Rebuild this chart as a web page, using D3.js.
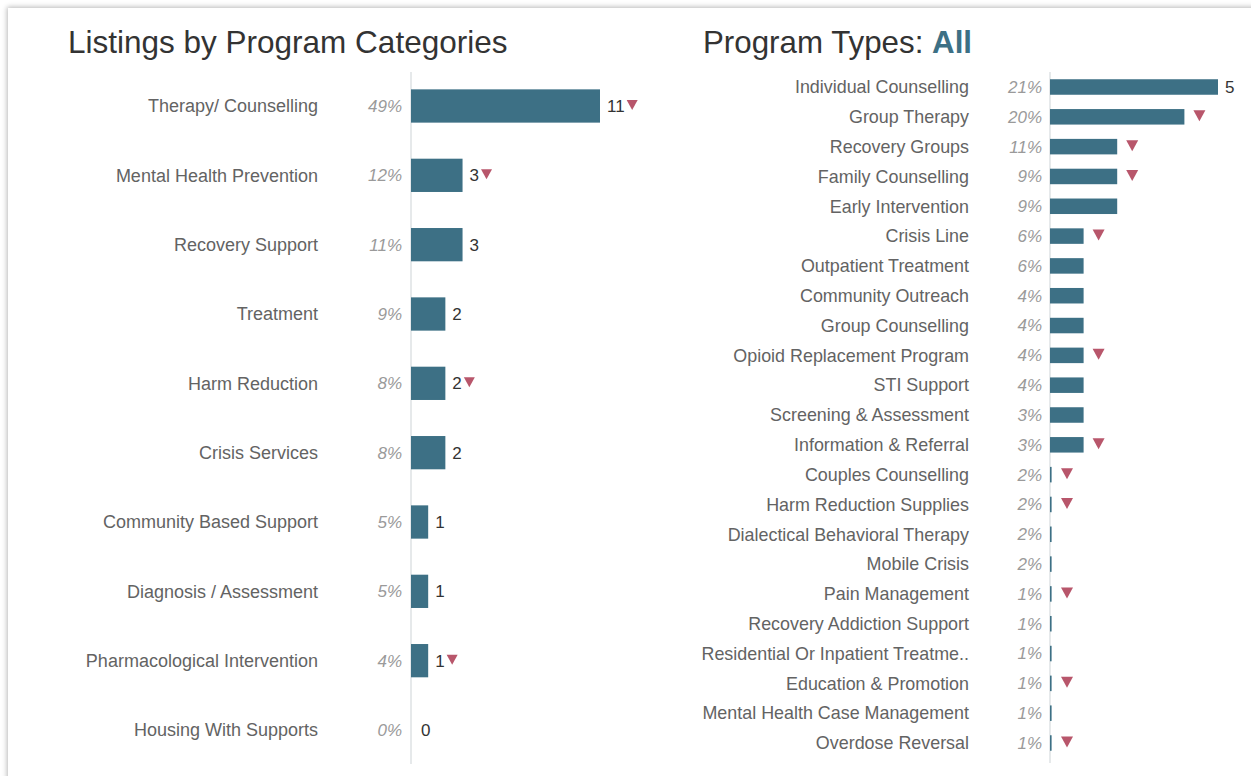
<!DOCTYPE html>
<html><head><meta charset="utf-8">
<script src="https://cdn.jsdelivr.net/npm/d3@7"></script>
<style>
html,body{margin:0;padding:0;background:#fff;overflow:hidden;width:1251px;height:776px}
#card{position:absolute;left:8px;top:8px;width:1320px;height:820px;background:#fff;box-shadow:-1px -1px 5px rgba(0,0,0,0.28)}
svg{position:absolute;left:0;top:0}
text{font-family:"Liberation Sans",Arial,Helvetica,sans-serif}
</style></head><body>
<div id="card"></div>
<svg id="chart" width="1251" height="776"></svg>
<script>
// ---- Data ----
const categories = ["Therapy/ Counselling","Mental Health Prevention","Recovery Support","Treatment","Harm Reduction","Crisis Services","Community Based Support","Diagnosis / Assessment","Pharmacological Intervention","Housing With Supports"];
const categoryCounts = [11,3,3,2,2,2,1,1,1,0];
const categoryPct = ["49%","12%","11%","9%","8%","8%","5%","5%","4%","0%"];
const categoryDown = [true,true,false,false,true,false,false,false,true,false];

const types = ["Individual Counselling","Group Therapy","Recovery Groups","Family Counselling","Early Intervention","Crisis Line","Outpatient Treatment","Community Outreach","Group Counselling","Opioid Replacement Program","STI Support","Screening & Assessment","Information & Referral","Couples Counselling","Harm Reduction Supplies","Dialectical Behavioral Therapy","Mobile Crisis","Pain Management","Recovery Addiction Support","Residential Or Inpatient Treatme..","Education & Promotion","Mental Health Case Management","Overdose Reversal"];
const typeCounts = [5,4,2,2,2,1,1,1,1,1,1,1,1,0,0,0,0,0,0,0,0,0,0];
const typePct = ["21%","20%","11%","9%","9%","6%","6%","4%","4%","4%","4%","3%","3%","2%","2%","2%","2%","1%","1%","1%","1%","1%","1%"];
const typeDown = [false,true,true,true,false,true,false,false,false,true,false,false,true,true,true,false,false,true,false,false,true,false,true];
const typeShowCount = [true,false,false,false,false,false,false,false,false,false,false,false,false,false,false,false,false,false,false,false,false,false,false];

// ---- Styles ----
const BAR = "#3d7085", TRI = "#b8566b", LABEL = "#636363", PCT = "#9a9a9a", VAL = "#333", AXIS = "#cdd3d6";

const svg = d3.select("#chart");

// Titles
svg.append("text").attr("x",68).attr("y",53).attr("font-size",31.5).attr("fill","#333")
  .text("Listings by Program Categories");
const t2 = svg.append("text").attr("x",703).attr("y",53).attr("font-size",31.3).attr("fill","#333");
t2.append("tspan").text("Program Types: ");
t2.append("tspan").attr("font-weight","bold").attr("fill","#3d7085").text("All");

function tri(g, cx, cy, w, h){
  g.append("path").attr("d",`M${cx-w/2},${cy-h/2}L${cx+w/2},${cy-h/2}L${cx},${cy+h/2}Z`).attr("fill",TRI);
}

// ---- Left chart ----
(function(){
  const x0 = 411;
  const x = d3.scaleLinear().domain([0,11]).range([x0, 600]);
  const y = d3.scaleBand().domain(categories).range([71.33,764.67]).paddingInner(0.52).paddingOuter(0.26);
  const g = svg.append("g");
  g.append("line").attr("x1",x0).attr("x2",x0).attr("y1",72).attr("y2",764).attr("stroke",AXIS).attr("stroke-width",1);
  categories.forEach((c,i)=>{
    const cy = y(c) + y.bandwidth()/2;
    g.append("text").attr("x",318).attr("y",cy).attr("dy","0.35em").attr("text-anchor","end")
      .attr("font-size",18).attr("fill",LABEL).text(c);
    g.append("text").attr("x",402).attr("y",cy).attr("dy","0.35em").attr("text-anchor","end")
      .attr("font-size",17).attr("font-style","italic").attr("fill",PCT).text(categoryPct[i]);
    const v = categoryCounts[i];
    if (v>0) g.append("rect").attr("x",x(0)).attr("y",y(c)).attr("width",x(v)-x(0)).attr("height",y.bandwidth()).attr("fill",BAR);
    const vt = g.append("text").attr("x",x(v)+7+(v===0?3:0)).attr("y",cy).attr("dy","0.35em")
      .attr("font-size",17).attr("fill",VAL).text(v);
    if (categoryDown[i]){
      const wd = vt.node().getComputedTextLength();
      tri(g, x(v)+7+wd+7.5, cy-1, 11, 10);
    }
  });
})();

// ---- Right chart ----
(function(){
  const x0 = 1050;
  const x = d3.scaleLinear().domain([0,5]).range([x0, 1218]);
  const y = d3.scaleBand().domain(types).range([72.09,757.91]).paddingInner(0.48).paddingOuter(0.24);
  const g = svg.append("g");
  g.append("line").attr("x1",x0).attr("x2",x0).attr("y1",72).attr("y2",763).attr("stroke",AXIS).attr("stroke-width",1);
  types.forEach((c,i)=>{
    const cy = y(c) + y.bandwidth()/2;
    g.append("text").attr("x",969).attr("y",cy).attr("dy","0.35em").attr("text-anchor","end")
      .attr("font-size",17.9).attr("fill",LABEL).text(c);
    g.append("text").attr("x",1042).attr("y",cy).attr("dy","0.35em").attr("text-anchor","end")
      .attr("font-size",17).attr("font-style","italic").attr("fill",PCT).text(typePct[i]);
    const v = typeCounts[i];
    g.append("rect").attr("x",x(0)).attr("y",y(c)).attr("width",Math.max(x(v)-x(0),1.6)).attr("height",y.bandwidth()).attr("fill",BAR);
    if (typeShowCount[i]){
      g.append("text").attr("x",x(v)+7).attr("y",cy).attr("dy","0.35em")
        .attr("font-size",17).attr("fill",VAL).text(v);
    }
    if (typeDown[i]) tri(g, x(v)+15+(v===0?2:0), cy-1, 12, 11);
  });
})();
</script>
</body></html>
